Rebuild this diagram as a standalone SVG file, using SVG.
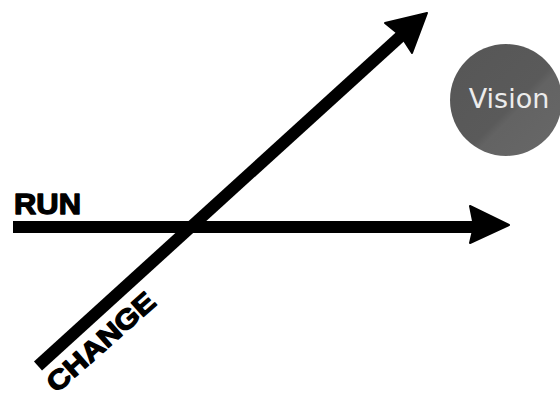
<svg xmlns="http://www.w3.org/2000/svg" width="560" height="399" viewBox="0 0 560 399">
  <style>
    .shaft { stroke: #000; stroke-width: 12; fill: none; }
    .head { fill: #000; stroke: #000; stroke-width: 2; stroke-linejoin: round; }
    .lbl { font-family: "Liberation Sans", Arial, sans-serif; font-weight: bold; fill: #000; stroke: #000; stroke-width: 1.3; stroke-linejoin: round; }
    .vis { font-family: "DejaVu Sans", Verdana, sans-serif; fill: #ececec; font-size: 27px; }
  </style>
  <defs>
    <linearGradient id="vg" x1="0" y1="0" x2="1" y2="1">
      <stop offset="0" stop-color="#565656"/>
      <stop offset="0.55" stop-color="#5a5a5a"/>
      <stop offset="0.6" stop-color="#636363"/>
      <stop offset="1" stop-color="#686868"/>
    </linearGradient>
  </defs>
  <rect width="560" height="399" fill="#fff"/>
  <g id="connectors">
    <g id="run-arrow">
      <line class="shaft" x1="13" y1="227" x2="474" y2="227"/>
      <polygon class="head" points="509,225 470,206 474,226 470,243"/>
    </g>
    <g id="change-arrow">
      <line class="shaft" x1="38" y1="366" x2="402" y2="35"/>
      <polygon class="head" points="427,13 385,23 401,36 412,53"/>
    </g>
  </g>
  <g id="run-label">
    <text class="lbl" x="14" y="214" font-size="29" textLength="67" lengthAdjust="spacingAndGlyphs">RUN</text>
  </g>
  <g id="change-label">
    <text class="lbl" font-size="27" text-anchor="middle" textLength="135" lengthAdjust="spacingAndGlyphs" transform="translate(107,349) rotate(-41.5)">CHANGE</text>
  </g>
  <g id="vision">
    <circle cx="506" cy="100" r="56" fill="url(#vg)"/>
    <text class="vis" x="509" y="108" text-anchor="middle">Vision</text>
  </g>
</svg>
